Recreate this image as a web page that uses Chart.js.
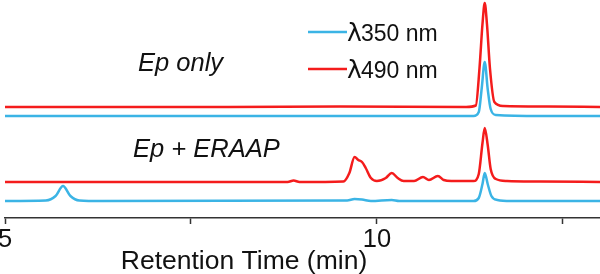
<!DOCTYPE html>
<html>
<head>
<meta charset="utf-8">
<script src="https://cdn.jsdelivr.net/npm/chart.js@4.4.1/dist/chart.umd.min.js"></script>
<style>
  html, body { margin: 0; padding: 0; background: #fff; }
  #wrap { width: 600px; height: 274px; }
</style>
</head>
<body>
<div id="wrap"><canvas id="hplc" width="600" height="274"></canvas></div>
<script>
// retention times (min) and stacked detector signal (arbitrary units, offset per trace)
const onlyRedT = [5, 6.5, 8, 9.5, 11.2, 11.33, 11.38, 11.42, 11.45, 11.48, 11.52, 11.58, 11.7, 12.3, 13];
const onlyRedY = [111, 111, 111, 111.5, 111, 112.5, 150, 194, 215, 194, 150, 116, 112, 111.5, 111];

const onlyBlueT = [5, 7, 9, 11.3, 11.37, 11.41, 11.45, 11.49, 11.53, 11.6, 12.2, 13];
const onlyBlueY = [102, 102, 102, 102, 106, 130, 156, 129, 109, 103, 102, 102];

const eraapRedT = [5, 7, 8.8, 8.88, 8.96, 9.55, 9.63, 9.7, 9.75, 9.8, 9.85, 9.92, 10.0, 10.12, 10.2, 10.28, 10.36, 10.5, 10.62, 10.7, 10.82, 10.9, 11.0, 11.3, 11.37, 11.42, 11.45, 11.49, 11.53, 11.6, 11.75, 12.2, 13];
const eraapRedY = [36, 36, 36, 37.5, 36, 36.5, 45, 61, 58, 56, 50, 40, 37, 40, 45, 40, 37, 37, 41, 38, 42, 38, 37, 37, 44, 75, 90, 73, 49, 39, 37, 36.5, 36];

const eraapBlueT = [5, 5.55, 5.68, 5.78, 5.88, 6.0, 6.3, 9.6, 9.7, 9.8, 9.92, 10.2, 10.3, 11.3, 11.37, 11.42, 11.45, 11.49, 11.54, 11.62, 11.8, 13];
const eraapBlueY = [17, 17.5, 22, 32, 22, 17.5, 17, 17.5, 19, 18.5, 17, 18, 17, 17, 20, 34, 45, 34, 22, 18, 17, 17];

const xTicks = [5, 7.5, 10, 12.5];
const xLabels = { 5: '5', 10: '10' };

const BLUE = '#3bb4e5';
const RED = '#f41c1c';

function pts(t, y) {
  return t.map((v, i) => ({ x: v, y: y[i] }));
}

function trace(t, y, color) {
  return {
    data: pts(t, y),
    borderColor: color,
    borderWidth: 2.5,
    pointRadius: 0,
    cubicInterpolationMode: 'monotone',
    fill: false
  };
}

// texts that sit inside the plot: annotations, legend, axis title
const textPlugin = {
  id: 'texts',
  afterDraw(chart) {
    const ctx = chart.ctx;
    ctx.save();
    ctx.fillStyle = '#111';
    ctx.textAlign = 'left';
    ctx.textBaseline = 'alphabetic';

    ctx.font = 'italic 25.5px "Liberation Sans", Arial, sans-serif';
    ctx.fillText('Ep only', 138, 71);
    ctx.fillText('Ep + ERAAP', 133, 157);

    // legend
    const rows = [[BLUE, '350 nm', 32], [RED, '490 nm', 69]];
    rows.forEach(([c, label, y]) => {
      ctx.strokeStyle = c;
      ctx.lineWidth = 2.5;
      ctx.beginPath();
      ctx.moveTo(308, y);
      ctx.lineTo(347, y);
      ctx.stroke();
      ctx.font = '25px "DejaVu Sans", sans-serif';
      ctx.fillText('\u03bb', 347, y + 9);
      ctx.font = '23px "Liberation Sans", Arial, sans-serif';
      ctx.fillText(label, 361, y + 9);
    });

    ctx.textAlign = 'center';
    ctx.font = '26.5px "Liberation Sans", Arial, sans-serif';
    ctx.fillText('Retention Time (min)', 244, 269);
    ctx.restore();
  }
};

new Chart(document.getElementById('hplc').getContext('2d'), {
  type: 'line',
  data: {
    datasets: [
      trace(onlyBlueT, onlyBlueY, BLUE),
      trace(eraapBlueT, eraapBlueY, BLUE),
      trace(onlyRedT, onlyRedY, RED),
      trace(eraapRedT, eraapRedY, RED)
    ]
  },
  options: {
    responsive: false,
    animation: false,
    layout: { padding: { left: 5, right: 0, top: 0, bottom: 0 } },
    plugins: { legend: { display: false }, tooltip: { enabled: false } },
    scales: {
      x: {
        type: 'linear',
        min: 5,
        max: 13,
        border: { color: '#333', width: 1.5 },
        grid: { drawOnChartArea: false, drawTicks: true, tickLength: 6, tickColor: '#333', tickWidth: 1.5 },
        ticks: {
          font: { size: 25.5, family: '"Liberation Sans", Arial, sans-serif' },
          color: '#111',
          padding: 1,
          maxRotation: 0,
          autoSkip: false,
          callback: v => xLabels[v] || ''
        },
        afterBuildTicks: s => { s.ticks = xTicks.map(v => ({ value: v })); },
        afterFit: s => { s.height = 56; s.paddingLeft = 0; s.paddingRight = 0; }
      },
      y: { display: false, min: 0, max: 218 }
    }
  },
  plugins: [textPlugin]
});
</script>
</body>
</html>
